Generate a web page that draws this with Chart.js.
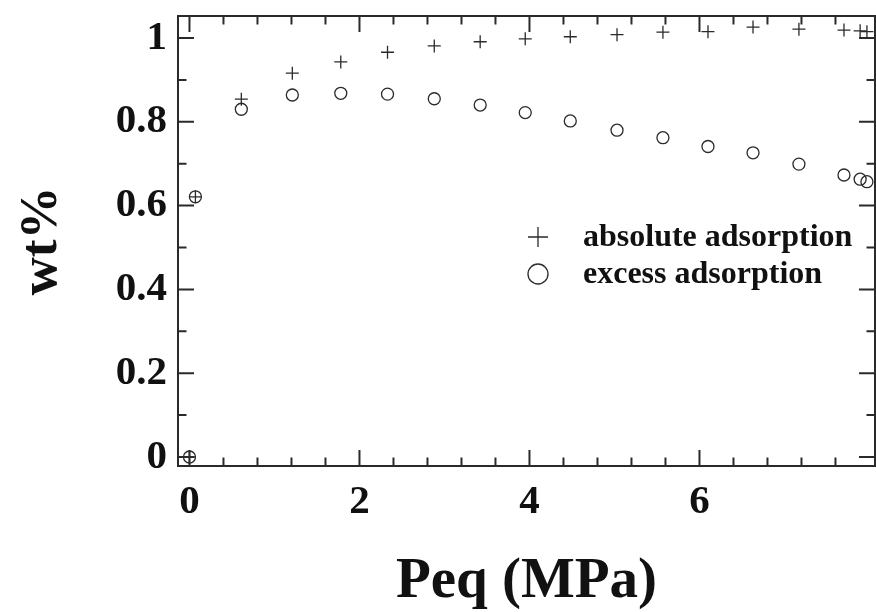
<!DOCTYPE html>
<html>
<head>
<meta charset="utf-8">
<title>Adsorption isotherm</title>
<script src="https://cdn.jsdelivr.net/npm/chart.js@4.4.1/dist/chart.umd.min.js"></script>
<style>
  html, body { margin: 0; padding: 0; background: #fff; }
  #wrap { width: 876px; height: 612px; position: relative; }
</style>
</head>
<body>
<div id="wrap"><canvas id="isotherm"></canvas></div>
<script>
// equilibrium pressure (MPa) and uptake (wt%)
const pressure = [0, 0.07, 0.61, 1.21, 1.78, 2.33, 2.88, 3.42, 3.95, 4.48, 5.03, 5.57, 6.10, 6.63, 7.17, 7.70, 7.89, 7.97];
const absoluteAds = [0, 0.621, 0.854, 0.916, 0.943, 0.966, 0.981, 0.991, 0.998, 1.003, 1.008, 1.014, 1.015, 1.026, 1.021, 1.019, 1.017, 1.015];
const excessAds = [0, 0.621, 0.830, 0.864, 0.868, 0.866, 0.855, 0.840, 0.822, 0.802, 0.780, 0.762, 0.741, 0.726, 0.699, 0.673, 0.663, 0.657];

const xTicks = [0, 2, 4, 6];
const yTicks = [0, 0.2, 0.4, 0.6, 0.8, 1];
const seriesLabels = ["absolute adsorption", "excess adsorption"];

const ink = "#2a2a2a";
const serif = "'Liberation Serif', 'Times New Roman', serif";

function toPoints(xs, ys) {
  return xs.map((x, i) => ({ x: x, y: ys[i] }));
}

// box frame with inward ticks on all four sides
const frameTicks = {
  id: "frameTicks",
  afterDatasetsDraw(chart) {
    const { ctx, chartArea: a, scales } = chart;
    const xs = scales.x, ys = scales.y;
    const major = 16, minor = 8.5;
    ctx.save();
    ctx.strokeStyle = ink;
    ctx.lineWidth = 2;
    ctx.strokeRect(a.left, a.top, a.right - a.left, a.bottom - a.top);

    for (let i = 0; i <= 19; i++) {
      const v = Math.round(i * 0.4 * 10) / 10;
      const len = xTicks.includes(v) ? major : minor;
      const px = xs.getPixelForValue(v);
      ctx.beginPath();
      ctx.moveTo(px, a.bottom); ctx.lineTo(px, a.bottom - len);
      ctx.moveTo(px, a.top); ctx.lineTo(px, a.top + len);
      ctx.stroke();
    }
    for (let i = 0; i <= 10; i++) {
      const v = i / 10;
      const len = i % 2 === 0 ? major : minor;
      const py = ys.getPixelForValue(v);
      ctx.beginPath();
      ctx.moveTo(a.left, py); ctx.lineTo(a.left + len, py);
      ctx.moveTo(a.right, py); ctx.lineTo(a.right - len, py);
      ctx.stroke();
    }
    ctx.restore();
  }
};

// legend drawn inside the plot area
const innerLegend = {
  id: "innerLegend",
  afterDraw(chart) {
    const { ctx, chartArea: a } = chart;
    const symX = a.left + 360, textX = a.left + 405;
    let rowY = a.top + 221;
    ctx.save();
    ctx.font = "bold 32px " + serif;
    ctx.textBaseline = "alphabetic";
    chart.data.datasets.forEach((ds) => {
      ctx.strokeStyle = ink;
      ctx.fillStyle = "rgba(0,0,0,0)";
      Chart.helpers.drawPoint(ctx, {
        pointStyle: ds.pointStyle, radius: 10, borderWidth: 1.3, rotation: 0
      }, symX, rowY);
      ctx.fillStyle = "#111";
      ctx.fillText(ds.label, textX, rowY + 9);
      rowY += 37;
    });
    ctx.restore();
  }
};

const ctx = document.getElementById("isotherm").getContext("2d");
new Chart(ctx, {
  type: "scatter",
  data: {
    datasets: [
      {
        label: seriesLabels[0],
        data: toPoints(pressure, absoluteAds),
        pointStyle: "cross",
        pointRadius: 6.5,
        pointBorderWidth: 1.3,
        borderColor: ink,
        backgroundColor: "rgba(0,0,0,0)",
        clip: false,
      },
      {
        label: seriesLabels[1],
        data: toPoints(pressure, excessAds),
        pointStyle: "circle",
        pointRadius: 6,
        pointBorderWidth: 1.3,
        borderColor: ink,
        backgroundColor: "rgba(0,0,0,0)",
        clip: false,
      },
    ],
  },
  options: {
    responsive: true,
    maintainAspectRatio: false,
    animation: false,
    layout: { autoPadding: false, padding: { top: 16, right: 1, left: 0, bottom: 0 } },
    plugins: {
      legend: { display: false },
      tooltip: { enabled: false },
    },
    scales: {
      x: {
        type: "linear",
        min: -0.135,
        max: 8.065,
        grid: { display: false, drawTicks: false },
        border: { display: false },
        afterBuildTicks: (axis) => { axis.ticks = xTicks.map((v) => ({ value: v })); },
        afterFit: (axis) => {
          axis.height = 146;
          axis.paddingLeft = 0;
          axis.paddingRight = 0;
        },
        ticks: {
          padding: 12,
          color: "#111",
          maxRotation: 0,
          font: { family: serif, size: 41, weight: "bold" },
          callback: (v) => String(v),
        },
        title: {
          display: true,
          text: "Peq (MPa)",
          color: "#111",
          padding: { top: 0, bottom: 1 },
          font: { family: serif, size: 57, weight: "bold", lineHeight: 1.0 },
        },
      },
      y: {
        type: "linear",
        min: -0.0215,
        max: 1.0525,
        grid: { display: false, drawTicks: false },
        border: { display: false },
        afterBuildTicks: (axis) => { axis.ticks = yTicks.map((v) => ({ value: v })); },
        afterFit: (axis) => {
          axis.width = 178;
          axis.paddingTop = 0;
          axis.paddingBottom = 0;
        },
        ticks: {
          padding: 11,
          color: "#111",
          font: { family: serif, size: 41, weight: "bold" },
          callback: (v) => String(Math.round(v * 10) / 10),
        },
        title: {
          display: true,
          text: "wt%",
          color: "#111",
          padding: { top: 11, bottom: 0 },
          font: { family: serif, size: 53, weight: "bold" },
        },
      },
    },
  },
  plugins: [frameTicks, innerLegend],
});
</script>
</body>
</html>
